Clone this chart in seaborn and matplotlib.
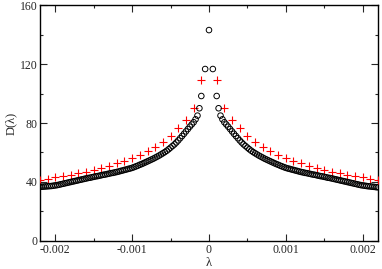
import matplotlib
matplotlib.use("Agg")
import matplotlib.pyplot as plt
import seaborn as sns
import pandas as pd
from matplotlib.ticker import MultipleLocator, FixedLocator

# circle series: lambda positions (x1e-3) on each side of 0, and D values
lam_circ = [0.05, 0.1, 0.125, 0.15, 0.175, 0.2, 0.225, 0.25, 0.275, 0.3, 0.325, 0.35, 0.375,
            0.4, 0.425, 0.45, 0.475, 0.5, 0.525, 0.55, 0.575, 0.6, 0.625, 0.65, 0.675, 0.7,
            0.725, 0.75, 0.775, 0.8, 0.825, 0.85, 0.875, 0.9, 0.925, 0.95, 0.975, 1.0, 1.025,
            1.05, 1.075, 1.1, 1.125, 1.15, 1.175, 1.2, 1.225, 1.25, 1.275, 1.3, 1.325, 1.35,
            1.375, 1.4, 1.425, 1.45, 1.475, 1.5, 1.525, 1.55, 1.575, 1.6, 1.625, 1.65, 1.675,
            1.7, 1.725, 1.75, 1.775, 1.8, 1.825, 1.85, 1.875, 1.9, 1.925, 1.95, 1.975, 2.0,
            2.025, 2.05, 2.075, 2.1, 2.125, 2.15, 2.175, 2.2]
d_circ_pos = [116.6, 98.3, 90.0, 85.0, 82.5, 80.5, 79.0, 77.5, 75.9, 74.3, 72.7, 71.2, 69.7,
              68.2, 66.8, 65.5, 64.4, 63.3, 62.2, 61.2, 60.3, 59.5, 58.7, 57.9, 57.2, 56.5,
              55.8, 55.2, 54.6, 54.0, 53.4, 52.8, 52.2, 51.7, 51.1, 50.6, 50.1, 49.6, 49.2,
              48.9, 48.5, 48.2, 47.8, 47.5, 47.1, 46.8, 46.5, 46.2, 46.0, 45.7, 45.4, 45.1,
              44.9, 44.6, 44.3, 44.0, 43.8, 43.5, 43.2, 42.9, 42.7, 42.4, 42.1, 41.8, 41.5,
              41.2, 40.9, 40.6, 40.3, 40.0, 39.7, 39.4, 39.1, 38.8, 38.5, 38.2, 37.9, 37.7,
              37.5, 37.3, 37.1, 37.0, 36.8, 36.7, 36.5, 36.4]
d_circ_neg = [116.6, 98.3, 90.0, 85.0, 82.5, 80.5, 79.0, 77.5, 75.9, 74.3, 72.7, 71.2, 69.7,
              68.2, 66.8, 65.5, 64.4, 63.3, 62.2, 61.2, 60.3, 59.5, 58.7, 57.9, 57.2, 56.5,
              55.8, 55.2, 54.6, 54.0, 53.4, 52.8, 52.2, 51.7, 51.1, 50.6, 50.1, 49.6, 49.2,
              48.9, 48.5, 48.2, 47.8, 47.5, 47.1, 46.8, 46.5, 46.2, 46.0, 45.7, 45.4, 45.1,
              44.9, 44.6, 44.3, 44.0, 43.8, 43.5, 43.2, 42.9, 42.7, 42.4, 42.1, 41.8, 41.5,
              41.2, 40.9, 40.6, 40.3, 40.0, 39.7, 39.4, 39.1, 38.8, 38.5, 38.2, 37.9, 37.7,
              37.5, 37.3, 37.2, 37.1, 37.0, 36.9, 36.8, 36.8]
d_circ_zero = 143.0

# plus series: lambda (x1e-3) and D values
lam_plus = [0.1, 0.2, 0.3, 0.4, 0.5, 0.6, 0.7, 0.8, 0.9, 1.0, 1.1,
            1.2, 1.3, 1.4, 1.5, 1.6, 1.7, 1.8, 1.9, 2.0, 2.1, 2.2]
d_plus_pos = [109.2, 90.0, 82.0, 76.6, 71.3, 67.0, 63.5, 60.8, 58.3, 56.3, 54.5,
              52.7, 51.1, 49.7, 48.3, 47.1, 46.1, 45.0, 44.1, 43.2, 42.2, 41.4]
d_plus_neg = [109.2, 90.0, 82.0, 76.6, 71.3, 67.0, 63.5, 60.8, 58.3, 56.3, 54.5,
              52.7, 51.1, 49.7, 48.3, 47.1, 46.1, 45.0, 44.1, 43.2, 42.2, 41.4]

xticks = [-0.002, -0.001, 0, 0.001, 0.002]
xtick_labels = ["-0.002", "-0.001", "0", "0.001", "0.002"]
yticks = [0, 40, 80, 120, 160]

circ = pd.DataFrame({
    "lam": [-v * 1e-3 for v in lam_circ[::-1]] + [0.0] + [v * 1e-3 for v in lam_circ],
    "D": d_circ_neg[::-1] + [d_circ_zero] + d_circ_pos,
})
plus = pd.DataFrame({
    "lam": [-v * 1e-3 for v in lam_plus[::-1]] + [v * 1e-3 for v in lam_plus],
    "D": d_plus_neg[::-1] + d_plus_pos,
})

sns.set_style("ticks")
plt.rcParams["font.family"] = ["Liberation Serif", "DejaVu Serif"]
plt.rcParams["mathtext.fontset"] = "stix"

fig = plt.figure(figsize=(3.82, 2.69), dpi=100)
ax = fig.add_axes([0.1047, 0.1041, 0.8848, 0.8773])

sns.scatterplot(data=plus, x="lam", y="D", marker="+", color="red", s=30,
                linewidth=0.8, ax=ax, zorder=3)
sns.scatterplot(data=circ, x="lam", y="D", marker="o", facecolor="none",
                edgecolor="black", s=16, linewidth=0.7, ax=ax, zorder=4)

ax.set_xlim(-0.0022, 0.0022)
ax.set_ylim(0, 160)
ax.xaxis.set_major_locator(FixedLocator(xticks))
ax.set_xticklabels(xtick_labels)
ax.xaxis.set_minor_locator(MultipleLocator(0.0005))
ax.yaxis.set_major_locator(FixedLocator(yticks))
ax.yaxis.set_minor_locator(MultipleLocator(20))
ax.tick_params(which="both", direction="in", top=True, right=True, width=0.8,
               labelsize=8.5, pad=2)
ax.tick_params(which="major", length=5)
ax.tick_params(which="minor", length=2.5)
for sp in ax.spines.values():
    sp.set_linewidth(1.0)
    sp.set_color("black")

ax.set_xlabel("λ", fontsize=9, labelpad=1)
ax.set_ylabel("D(λ)", fontsize=9, labelpad=2)

fig.savefig("out.png", dpi=100)
